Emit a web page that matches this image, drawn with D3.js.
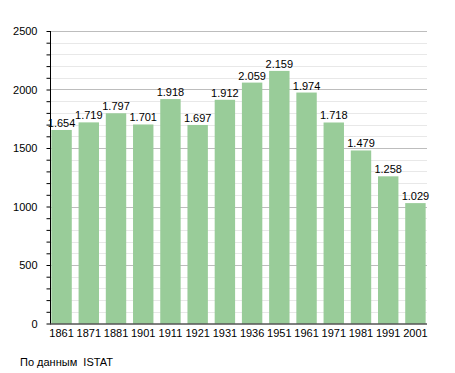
<!DOCTYPE html>
<html>
<head>
<meta charset="utf-8">
<script src="https://cdn.jsdelivr.net/npm/d3@7/dist/d3.min.js"></script>
<style>
  body { margin: 0; background: #fff; }
  svg { display: block; font-family: "Liberation Sans", Arial, sans-serif; }
</style>
</head>
<body>
<svg width="455" height="373"></svg>
<script>
var years = ["1861", "1871", "1881", "1901", "1911", "1921", "1931", "1936", "1951", "1961", "1971", "1981", "1991", "2001"];
var population = [1654, 1719, 1797, 1701, 1918, 1697, 1912, 2059, 2159, 1974, 1718, 1479, 1258, 1029];
var yTicks = [0, 500, 1000, 1500, 2000, 2500];
var source = "По данным  ISTAT";

const svg = d3.select("svg");
var plotLeft = 50, plotRight = 427, plotTop = 31, plotBottom = 323.5;

var x = d3.scaleBand().domain(years).range([plotLeft, plotRight]).paddingInner(0.25).paddingOuter(0.05);
var y = d3.scaleLinear().domain([0, 2500]).range([plotBottom, plotTop]);

// minor grid every 100
svg.append("g")
  .selectAll("line")
  .data(d3.range(100, 2501, 100).filter(d => d % 500 != 0))
  .join("line")
    .attr("x1", plotLeft).attr("x2", plotRight)
    .attr("y1", d => Math.round(y(d)) + 0.5).attr("y2", d => Math.round(y(d)) + 0.5)
    .attr("stroke", "#e8e8e8");

// major grid
svg.append("g")
  .selectAll("line")
  .data(yTicks.filter(d => d > 0))
  .join("line")
    .attr("x1", plotLeft).attr("x2", plotRight)
    .attr("y1", d => Math.round(y(d)) + 0.5).attr("y2", d => Math.round(y(d)) + 0.5)
    .attr("stroke", "#bdbdbd");

// bars
svg.append("g")
  .selectAll("rect")
  .data(population)
  .join("rect")
    .attr("x", (d, i) => x(years[i]))
    .attr("width", x.bandwidth())
    .attr("y", d => y(d))
    .attr("height", d => y(0) - y(d))
    .attr("fill", "#99cc99");

// value labels
var fmt = d => d3.format(",")(d).replace(",", ".");
svg.append("g")
  .selectAll("text")
  .data(population)
  .join("text")
    .attr("x", (d, i) => x(years[i]) + x.bandwidth() / 2)
    .attr("y", d => y(d) - 3)
    .attr("text-anchor", "middle")
    .attr("font-size", 11)
    .attr("fill", "#000")
    .text(fmt);

// y axis
var yAxis = d3.axisLeft(y).tickValues(d3.range(0, 2501, 100)).tickSize(4)
  .tickFormat(d => yTicks.includes(d) ? d : "");
var ya = svg.append("g")
  .attr("transform", "translate(" + (plotLeft + 0.5) + ",0)")
  .call(yAxis);
ya.select(".domain").attr("d", "M0," + plotTop + "V" + plotBottom).attr("stroke", "#000");
ya.selectAll("text").attr("font-size", 11).attr("x", -13).attr("font-family", "Liberation Sans, Arial, sans-serif");

// x axis
var xa = svg.append("g")
  .attr("transform", "translate(0," + (plotBottom + 0.5) + ")")
  .call(d3.axisBottom(x).tickSize(0).tickPadding(5));
xa.select(".domain").attr("d", "M" + plotLeft + ",0H" + plotRight).attr("stroke", "#000");
xa.selectAll("text").attr("font-size", 11).attr("font-family", "Liberation Sans, Arial, sans-serif");

svg.append("text")
  .attr("x", 20).attr("y", 366)
  .attr("font-size", 11)
  .style("white-space", "pre")
  .text(source);
</script>
</body>
</html>
